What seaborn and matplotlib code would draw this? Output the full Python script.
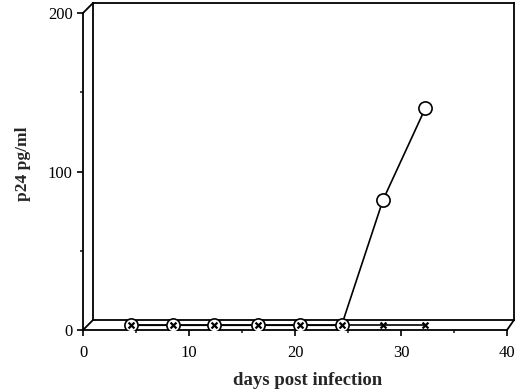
import pandas as pd
import seaborn as sns
import matplotlib.pyplot as plt

# values
days = [4.5, 8.5, 12.4, 16.5, 20.5, 24.4, 28.3, 32.3]
p24_open = [3, 3, 3, 3, 3, 3, 82, 140]
p24_cross = [3, 3, 3, 3, 3, 3, 3, 3]
x_ticks = [0, 10, 20, 30, 40]
y_ticks = [0, 100, 200]

df = pd.DataFrame({"day": days, "open": p24_open, "cross": p24_cross})

sns.set_style("white")
plt.rcParams["font.family"] = ["Liberation Serif", "DejaVu Serif"]

fig = plt.figure(figsize=(5.2, 3.92), dpi=100)
ax = fig.add_axes([83 / 520, 62 / 392, 424 / 520, 317 / 392])
ax.set_xlim(0, 40)
ax.set_ylim(0, 200)

# pseudo-3D box: back wall offset up and to the right
px_x = 424 / 40
px_y = 317 / 200
dx = 10 / px_x
dxr = 7 / px_x
dy = 10 / px_y
lw = 1.3
box = [
    ([0, 0], [0, 200]),                     # front y axis
    ([0, 40], [0, 0]),                      # front x axis
    ([0, dx], [200, 200 + dy]),
    ([0, dx], [0, dy]),
    ([dx, dx], [dy, 200 + dy]),             # back left
    ([dx, 40 + dxr], [200 + dy, 200 + dy]), # back top
    ([40 + dxr, 40 + dxr], [dy, 200 + dy]), # back right
    ([dx, 40 + dxr], [dy, dy]),             # floor back edge
    ([40, 40 + dxr], [0, dy]),
]
for xs, ys in box:
    ax.plot(xs, ys, color="black", lw=lw, clip_on=False, zorder=1,
            solid_capstyle="projecting")

sns.lineplot(data=df, x="day", y="cross", color="black", lw=1.2, ax=ax, zorder=2)
sns.lineplot(data=df, x="day", y="open", color="black", lw=1.2, marker="o",
             markersize=9.5, markerfacecolor="white", markeredgecolor="black",
             markeredgewidth=1.2, ax=ax, zorder=3)
sns.scatterplot(data=df, x="day", y="cross", marker="x", color="black", s=18,
                linewidth=1.6, ax=ax, zorder=4)

for s in ax.spines.values():
    s.set_visible(False)

ax.set_xticks(x_ticks)
ax.set_xticks([5, 15, 25, 35], minor=True)
ax.set_yticks(y_ticks)
ax.set_yticks([50, 150], minor=True)
ax.tick_params(axis="x", which="major", direction="out", length=4, width=1.2,
               pad=7, labelsize=12, bottom=True, colors="black")
ax.tick_params(axis="x", which="minor", direction="out", length=2.5, width=1.2,
               bottom=True)
ax.tick_params(axis="y", which="major", direction="out", length=4.5, width=1.2,
               pad=3, labelsize=12, left=True, colors="black")
ax.tick_params(axis="y", which="minor", direction="out", length=2.5, width=1.2,
               left=True)

ax.set_xlabel("days post infection", fontsize=13.5, fontweight="bold")
ax.set_ylabel("p24 pg/ml", fontsize=12.5, fontweight="bold")
ax.xaxis.set_label_coords(225 / 424, -42 / 317)
ax.yaxis.set_label_coords(-52 / 424, 166 / 317)

fig.savefig("out.png", dpi=100)
